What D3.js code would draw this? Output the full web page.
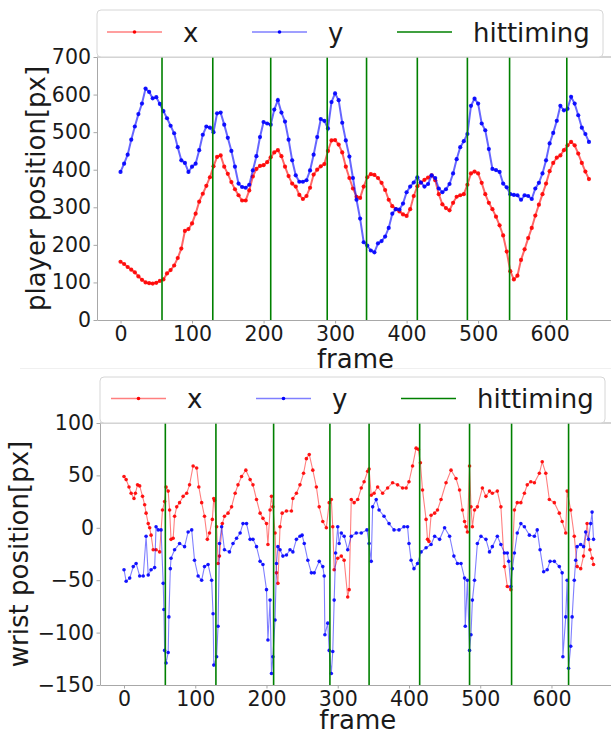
<!DOCTYPE html>
<html>
<head>
<meta charset="utf-8">
<script src="https://cdn.jsdelivr.net/npm/d3@7"></script>
<style>
  body { margin: 0; background: #fff; }
  svg { display: block; font-family: "DejaVu Sans", sans-serif; }
</style>
</head>
<body>
<svg id="chart" width="611" height="735"></svg>
<script>
// hit timings (frame numbers), same for both panels
const hitFrames = [58, 129, 210, 289, 344, 415, 485, 544, 624];

// player position, one value every 5 frames starting at frame 0
const playerStep = 5;
const playerX = [
  155, 149, 141, 134, 127, 116, 107, 100, 98, 97,
  99, 104, 108, 124, 133, 145, 165, 190, 237, 242,
  257, 283, 315, 336, 357, 380, 409, 434, 438, 408,
  389, 367, 348, 332, 318, 318, 345, 382, 402, 410,
  412, 420, 433, 446, 452, 436, 408, 383, 363, 355,
  333, 322, 330, 352, 387, 400, 409, 415, 450, 478,
  479, 467, 446, 408, 378, 350, 328, 325, 355, 380,
  388, 386, 378, 365, 346, 320, 303, 295, 289, 281,
  277, 295, 330, 356, 366, 373, 379, 385, 372, 335,
  308, 298, 292, 312, 328, 332, 335, 360, 390, 395,
  390, 365, 335, 312, 295, 275, 252, 225, 182, 130,
  108, 118, 160, 188, 218, 245, 278, 307, 335, 363,
  396, 418, 432, 438, 452, 465, 474, 465, 443, 418,
  395, 375
];
const playerY = [
  394, 416, 440, 480, 515, 548, 576, 616, 607, 590,
  593, 575, 556, 537, 517, 497, 460, 425, 418, 394,
  408, 416, 452, 493, 515, 512, 500, 550, 552, 520,
  485, 450, 408, 363, 354, 352, 360, 398, 436, 487,
  527, 523, 520, 560, 585, 552, 528, 480, 425, 385,
  368, 368, 372, 398, 440, 487, 535, 530, 510, 580,
  603, 585, 525, 478, 435, 378, 320, 270, 207, 198,
  185, 180, 204, 210, 222, 245, 283, 295, 294, 310,
  340, 355, 366, 380, 366, 355, 362, 385, 378, 350,
  340, 348, 362, 390, 428, 460, 476, 495, 570, 589,
  576, 523, 505, 455, 402, 399, 394, 363, 353, 335,
  333, 332, 320, 332, 330, 322, 350, 365, 390, 425,
  470, 498, 530, 570, 558, 562, 594, 576, 545, 512,
  495, 474
];

// wrist position, [frame, value]
const wristX = [
  [0,49],[3,46],[7,39],[10,33],[14,28],[16,33],[19,41],[22,40],[26,30],[29,22],
  [31,14],[34,4],[36,0],[38,-7],[41,-21],[45,-21],[50,-23],[54,17],[57,25],[59,39],
  [62,35],[64,17],[66,-11],[69,-10],[71,11],[74,20],[78,24],[83,30],[88,33],[92,41],
  [97,59],[102,57],[105,39],[109,24],[113,11],[117,-11],[120,-5],[124,8],[126,28],[127,26],
  [130,1],[132,-34],[134,-27],[138,4],[141,11],[146,14],[151,20],[156,33],[160,41],[165,49],
  [171,55],[177,46],[181,41],[186,27],[191,14],[195,9],[200,4],[202,-16],[205,17],[207,30],
  [209,20],[212,-5],[214,-43],[216,-53],[219,1],[222,14],[228,16],[235,16],[237,28],[242,33],
  [247,41],[252,52],[256,66],[260,70],[265,55],[270,39],[274,20],[279,6],[284,0],[288,24],
  [291,27],[293,1],[295,-40],[300,-29],[305,-27],[309,-31],[314,-66],[316,-59],[319,27],[323,24],
  [328,27],[333,38],[337,44],[342,54],[344,56],[347,31],[351,33],[356,39],[363,33],[370,38],
  [377,43],[384,41],[391,38],[396,38],[400,44],[405,59],[410,76],[413,75],[416,62],[419,36],
  [424,8],[426,-11],[428,-13],[431,12],[436,14],[440,17],[445,27],[452,43],[459,55],[466,47],
  [471,36],[475,17],[478,6],[480,1],[482,-4],[485,59],[487,20],[489,1],[492,17],[496,20],
  [503,38],[508,30],[513,35],[517,33],[524,35],[529,20],[534,-37],[538,-56],[543,-59],[548,17],
  [552,24],[557,24],[562,33],[566,41],[571,44],[576,43],[583,52],[587,63],[592,52],[597,27],
  [604,24],[611,14],[615,6],[620,-5],[622,35],[627,17],[632,-8],[636,-37],[641,-39],[645,-27],
  [650,4],[654,-21],[657,-29],[659,-35]
];
const wristY = [
  [0,-40],[3,-51],[8,-48],[13,-37],[17,-34],[22,-46],[27,-46],[31,-8],[34,-45],[38,-40],
  [43,-38],[45,1],[48,-2],[52,-2],[55,-53],[56,-78],[57,-117],[59,-129],[62,-119],[63,-85],
  [65,-39],[66,-29],[71,-21],[78,-15],[85,-18],[90,-4],[95,-2],[99,-31],[104,-46],[109,-50],
  [113,-37],[118,-35],[123,-50],[125,-82],[126,-131],[130,-123],[132,-94],[134,-15],[137,1],[141,-21],
  [148,-23],[153,-15],[158,-10],[163,-5],[167,4],[172,4],[177,-11],[181,-11],[186,-18],[191,-32],
  [195,-35],[200,-59],[202,-107],[205,-69],[207,-139],[209,-123],[212,-88],[214,-34],[216,-18],[219,-21],
  [223,-27],[228,-26],[233,-21],[237,-23],[242,-11],[247,-8],[250,-7],[253,-15],[258,-31],[263,-43],
  [267,-43],[274,-32],[279,-37],[281,-46],[282,-102],[286,-91],[288,-117],[291,-139],[293,-118],[295,-69],
  [297,-24],[300,1],[302,-15],[305,-5],[309,-8],[314,-21],[319,-8],[326,-5],[333,-5],[341,-2],
  [344,-15],[347,-32],[349,20],[354,27],[358,17],[365,11],[372,4],[379,-2],[386,-2],[393,1],
  [398,1],[400,-15],[403,-31],[407,-39],[412,-34],[417,-23],[424,-19],[431,-16],[436,-8],[443,-11],
  [450,0],[457,-8],[463,-27],[468,-34],[473,-34],[478,-48],[479,-94],[482,-50],[485,-117],[487,-102],
  [489,-69],[492,-50],[496,-15],[501,-8],[508,-11],[513,-23],[517,-18],[524,-8],[529,-16],[534,-24],
  [538,-24],[540,-32],[543,-56],[545,-39],[548,-24],[552,-5],[557,4],[562,1],[569,-7],[576,-8],
  [580,-2],[584,-21],[589,-42],[594,-40],[598,-32],[604,-32],[611,-37],[615,-43],[616,-123],[620,-85],
  [622,-50],[624,-134],[627,-113],[629,-85],[632,-50],[634,-31],[636,-18],[641,-16],[645,-18],[648,-4],
  [652,-11],[655,4],[657,15],[659,-11]
];

const frameTicks = [0, 100, 200, 300, 400, 500, 600];
const playerTicks = [0, 100, 200, 300, 400, 500, 600, 700];
const wristTicks = [-150, -100, -50, 0, 50, 100];
const legendLabels = ['x', 'y', 'hittiming'];

const svg = d3.select('#chart');
const fmt = d => d < 0 ? '\u2212' + Math.abs(d) : String(d);

// faint separator between the two figures
svg.append('line').attr('x1', 20).attr('x2', 611).attr('y1', 368.5).attr('y2', 368.5)
  .attr('stroke', '#f0f0f0').attr('stroke-width', 1);

function drawPanel(p, idx) {
  const x = d3.scaleLinear().domain(p.xDomain).range(p.xRange);
  const y = d3.scaleLinear().domain(p.yDomain).range(p.yRange);
  const g = svg.append('g');

  const clip = 'clip' + idx;
  svg.append('clipPath').attr('id', clip).append('rect')
    .attr('x', p.xRange[0]).attr('y', p.yRange[1])
    .attr('width', p.xRange[1] - p.xRange[0]).attr('height', p.yRange[0] - p.yRange[1]);

  const plot = g.append('g').attr('clip-path', `url(#${clip})`);
  const line = d3.line().x(d => x(d[0])).y(d => y(d[1]));

  const series = [
    { data: p.xData, color: '#ff0000' },
    { data: p.yData, color: '#0000ff' }
  ];
  series.forEach(s => {
    plot.append('path').attr('d', line(s.data)).attr('fill', 'none')
      .attr('stroke', s.color).attr('stroke-opacity', p.lineOpacity).attr('stroke-width', p.lineW);
    plot.append('g').selectAll('circle').data(s.data).enter().append('circle')
      .attr('cx', d => x(d[0])).attr('cy', d => y(d[1])).attr('r', p.dotR)
      .attr('fill', s.color).attr('fill-opacity', 0.9);
  });

  plot.append('g').selectAll('line').data(hitFrames).enter().append('line')
    .attr('x1', d => x(d)).attr('x2', d => x(d))
    .attr('y1', p.yRange[0]).attr('y2', p.yRange[1])
    .attr('stroke', '#008000').attr('stroke-width', 1.6);

  // axes
  const xAxis = d3.axisBottom(x).tickValues(frameTicks).tickSize(3.5).tickSizeOuter(0).tickPadding(3).tickFormat(fmt);
  const yAxis = d3.axisLeft(y).tickValues(p.yTicks).tickSize(3.5).tickSizeOuter(0).tickPadding(2.5).tickFormat(fmt);
  const xg = g.append('g').attr('transform', `translate(0,${p.yRange[0]})`).call(xAxis);
  const yg = g.append('g').attr('transform', `translate(${p.xRange[0]},0)`).call(yAxis);
  [xg, yg].forEach(a => {
    a.selectAll('path').attr('stroke', '#a8a8a8');
    a.selectAll('line').attr('stroke', '#a8a8a8');
    a.selectAll('text').attr('fill', '#1a1a1a').style('font-size', '20.5px')
      .style('font-family', '"DejaVu Sans", sans-serif');
  });
  g.append('line').attr('x1', p.xRange[0]).attr('x2', p.xRange[1])
    .attr('y1', p.yRange[1]).attr('y2', p.yRange[1]).attr('stroke', '#a8a8a8');
  g.append('line').attr('x1', p.xRange[1]).attr('x2', p.xRange[1])
    .attr('y1', p.yRange[0]).attr('y2', p.yRange[1]).attr('stroke', '#a8a8a8');

  g.append('text').attr('x', (p.xRange[0] + p.xRange[1]) / 2).attr('y', p.xLabelY)
    .attr('text-anchor', 'middle').style('font-size', '26px').attr('fill', '#1a1a1a').text('frame');
  g.append('text')
    .attr('transform', `translate(${p.yLabelX},${(p.yRange[0] + p.yRange[1]) / 2}) rotate(-90)`)
    .attr('text-anchor', 'middle').style('font-size', '26px').attr('fill', '#1a1a1a').text(p.yLabel);

  // legend above the axes
  const lg = g.append('g').attr('transform', `translate(${p.xRange[0]},${p.legendTop})`);
  lg.append('rect').attr('x', 0).attr('y', 0).attr('width', p.legendW).attr('height', p.legendH)
    .attr('rx', 4).attr('fill', '#fff').attr('fill-opacity', 0.85).attr('stroke', '#d6d6d6');
  const colors = ['#ff0000', '#0000ff', '#008000'];
  legendLabels.forEach((lab, i) => {
    const hx = p.legendPad + 145 * i;
    const hy = p.legendH / 2 - 1.5;
    lg.append('line').attr('x1', hx).attr('x2', hx + 55).attr('y1', hy).attr('y2', hy)
      .attr('stroke', colors[i]).attr('stroke-opacity', i < 2 ? 0.5 : 1).attr('stroke-width', i < 2 ? 1.3 : 1.6);
    if (i < 2) {
      lg.append('circle').attr('cx', hx + 27.5).attr('cy', hy).attr('r', 1.8).attr('fill', colors[i]);
    }
    lg.append('text').attr('x', hx + 76).attr('y', hy + 9.5)
      .style('font-size', '26px').attr('fill', '#1a1a1a').text(lab);
  });
}

drawPanel({
  xDomain: [-32.9, 690], xRange: [97, 614],
  yDomain: [0, 700], yRange: [320, 57],
  yTicks: playerTicks,
  xData: playerX.map((v, i) => [i * playerStep, v]),
  yData: playerY.map((v, i) => [i * playerStep, v]),
  dotR: 2.1, lineW: 2, lineOpacity: 0.6,
  yLabel: 'player position[px]', yLabelX: 45, xLabelY: 368,
  legendTop: 10, legendW: 506, legendH: 47, legendPad: 10
}, 0);

drawPanel({
  xDomain: [-33.7, 690], xRange: [100, 615.6],
  yDomain: [-150, 100], yRange: [685, 423],
  yTicks: wristTicks,
  xData: wristX, yData: wristY,
  dotR: 1.8, lineW: 1.1, lineOpacity: 0.5,
  yLabel: 'wrist position[px]', yLabelX: 28, xLabelY: 729,
  legendTop: 377, legendW: 505, legendH: 46, legendPad: 11
}, 1);
</script>
</body>
</html>
